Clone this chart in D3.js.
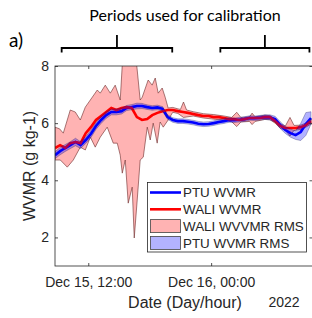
<!DOCTYPE html>
<html>
<head>
<meta charset="utf-8">
<script src="https://cdn.jsdelivr.net/npm/d3@7"></script>
<style>
  body { margin: 0; background: #fff; }
  svg { display: block; }
</style>
</head>
<body>
<div id="chart"></div>
<script>
// Hours since Dec 15 2022, 00:00
const hours = [8.75, 9.25, 9.75, 10.25, 10.75, 11.25, 11.75, 12.25, 12.75, 13.25,
  13.75, 14.25, 14.75, 15.25, 15.75, 16.25, 16.75, 17.25, 17.75, 18.25,
  18.75, 19.25, 19.75, 20.25, 20.75, 21.25, 21.75, 22.25, 22.75, 23.25,
  23.75, 24.25, 24.75, 25.25, 25.75, 26.25, 26.75, 27.25, 27.75, 28.25,
  28.75, 29.25, 29.75, 30.25, 30.75, 31.25, 31.75, 32.25, 32.75, 33.25, 33.75];

const ptuWvmr = [4.88, 5.02, 5.13, 5.23, 5.34, 5.23, 5.41, 5.62, 5.90, 6.11,
  6.28, 6.39, 6.39, 6.42, 6.53, 6.56, 6.60, 6.60, 6.56, 6.53,
  6.55, 6.50, 6.21, 6.11, 6.07, 6.07, 6.05, 6.02, 5.98, 5.96,
  5.97, 6.00, 6.04, 6.07, 6.11, 6.10, 6.12, 6.14, 6.18, 6.17,
  6.19, 6.21, 6.20, 6.14, 5.93, 5.76, 5.65, 5.58, 5.69, 5.97, 6.18];

const walWvmr = [5.13, 5.23, 5.13, 5.30, 5.34, 5.30, 5.65, 5.86, 6.11, 6.25,
  6.39, 6.53, 6.46, 6.53, 6.56, 6.53, 6.21, 6.11, 6.14, 6.28,
  6.36, 6.42, 6.46, 6.46, 6.42, 6.39, 6.36, 6.32, 6.28, 6.25,
  6.25, 6.21, 6.21, 6.18, 6.14, 6.14, 6.11, 6.14, 6.18, 6.18,
  6.18, 6.21, 6.21, 6.07, 5.90, 5.83, 5.83, 5.83, 5.86, 5.93, 6.07];

// PTU RMS (half width of the blue band)
const ptuRms = [0.12, 0.13, 0.12, 0.12, 0.13, 0.12, 0.12, 0.13, 0.12, 0.12,
  0.11, 0.10, 0.10, 0.10, 0.09, 0.09, 0.10, 0.09, 0.08, 0.08,
  0.08, 0.08, 0.08, 0.08, 0.08, 0.08, 0.08, 0.08, 0.08, 0.08,
  0.08, 0.08, 0.08, 0.08, 0.08, 0.08, 0.08, 0.08, 0.08, 0.08,
  0.08, 0.08, 0.09, 0.10, 0.12, 0.12, 0.14, 0.15, 0.30, 0.40, 0.22];

// WALI RMS envelope (upper and lower edges)
const walUpperHours = [8.75, 9.2, 9.56, 10.24, 10.73, 11.22, 11.71, 12.2, 12.88, 13.17,
  13.66, 14.15, 14.63, 15.12, 15.41, 16.1, 16.78, 17.07, 17.27, 17.85,
  18.24, 18.54, 18.83, 19.22, 19.51, 19.8, 20.25, 20.75, 21.0, 21.3,
  21.6, 22.25, 23.25, 24.25, 25.25, 26.0, 26.5, 26.9, 27.75, 28.0,
  28.3, 29.25, 29.75, 30.25, 30.75, 31.25, 31.7, 32.1, 32.75, 33.25, 33.9];
const walUpper = [5.86, 5.80, 5.65, 6.46, 6.39, 6.11, 6.56, 6.81, 7.16, 7.05,
  7.33, 7.05, 7.33, 6.81, 8.6, 10.0, 7.86, 6.81, 6.91, 7.51,
  7.33, 7.58, 7.05, 7.23, 6.91, 6.53, 6.55, 6.50, 6.48, 6.74,
  6.46, 6.40, 6.33, 6.30, 6.25, 6.20, 6.38, 6.20, 6.22, 6.35,
  6.22, 6.28, 6.26, 6.15, 5.98, 5.90, 6.20, 5.92, 5.93, 6.00, 6.14];

const walLowerHours = [8.75, 9.27, 9.95, 10.54, 11.22, 11.71, 12.2, 12.68, 13.17, 13.85,
  14.44, 14.83, 15.12, 15.32, 15.61, 15.9, 16.29, 16.49, 16.78, 17.07,
  17.37, 17.76, 18.05, 18.34, 18.73, 19.02, 19.32, 19.8, 20.25, 20.75,
  21.3, 22.25, 23.25, 24.25, 25.25, 26.0, 26.5, 26.9, 27.75, 28.0,
  28.3, 29.25, 29.75, 30.25, 30.75, 31.25, 31.7, 32.1, 32.75, 33.25, 33.9];
const walLower = [4.71, 4.71, 4.46, 4.71, 5.16, 5.06, 5.51, 5.16, 5.51, 5.86,
  5.30, 5.30, 4.88, 4.25, 4.71, 3.20, 3.76, 1.98, 3.31, 4.71,
  4.81, 5.86, 5.41, 6.00, 5.30, 6.04, 5.86, 6.11, 6.38, 6.34,
  6.20, 6.25, 6.18, 6.14, 6.10, 6.05, 5.88, 6.04, 6.06, 5.95,
  6.06, 6.13, 6.12, 6.00, 5.82, 5.75, 5.55, 5.75, 5.78, 5.86, 6.00];

const calibPeriods = [[9.4, 20.2], [24.9, 33.6]];
const yTicks = [2, 4, 6, 8];
const legendLabels = ["PTU WVMR", "WALI WVMR", "WALI WVVMR RMS", "PTU WVMR RMS"];

const width = 312, height = 318;
const plot = { left: 55, right: 312.5, top: 66, bottom: 266 };
const axisColor = "#262626";
const font = "'Liberation Sans', Arial, Helvetica, sans-serif";

const t0 = Date.UTC(2022, 11, 15);
const toDate = h => new Date(t0 + h * 3600e3);

const x = d3.scaleUtc()
  .domain([toDate(8.75), toDate(33.9)])
  .range([plot.left, plot.right]);
const y = d3.scaleLinear()
  .domain([1, 8])
  .range([plot.bottom, plot.top]);

const svg = d3.select("#chart").append("svg")
  .attr("width", width)
  .attr("height", height);

svg.append("defs").append("clipPath").attr("id", "clip")
  .append("rect")
  .attr("x", plot.left).attr("y", plot.top)
  .attr("width", plot.right - plot.left)
  .attr("height", plot.bottom - plot.top);

const g = svg.append("g").attr("clip-path", "url(#clip)");

// WALI RMS band (upper edge forward, lower edge back)
const walPoly = walUpperHours.map((h, i) => [x(toDate(h)), y(walUpper[i])])
  .concat(walLowerHours.map((h, i) => [x(toDate(h)), y(walLower[i])]).reverse());
g.append("path")
  .attr("d", d3.line()(walPoly) + "Z")
  .attr("fill", "rgb(255,179,179)")
  .attr("stroke", "#6b2a2a")
  .attr("stroke-width", 0.6);

const line = d3.line()
  .x(d => x(toDate(d[0])))
  .y(d => y(d[1]));

g.append("path")
  .attr("d", line(hours.map((h, i) => [h, ptuWvmr[i]])))
  .attr("fill", "none")
  .attr("stroke", "#0000ff")
  .attr("stroke-width", 2.6);

g.append("path")
  .attr("d", line(hours.map((h, i) => [h, walWvmr[i]])))
  .attr("fill", "none")
  .attr("stroke", "#ff0000")
  .attr("stroke-width", 2.6);

// PTU RMS band, semi transparent on top
const ptuArea = d3.area()
  .x((h) => x(toDate(h)))
  .y0((h, i) => y(ptuWvmr[i] - ptuRms[i]))
  .y1((h, i) => y(ptuWvmr[i] + ptuRms[i]));
g.append("path")
  .attr("d", ptuArea(hours))
  .attr("fill", "rgba(0,0,255,0.3)")
  .attr("stroke", "rgba(20,20,90,0.6)")
  .attr("stroke-width", 0.5);

// Axes
const xTickFmt = d3.utcFormat("%b %d, %H:%M");
svg.append("g")
  .attr("transform", `translate(0,${plot.bottom})`)
  .call(d3.axisBottom(x).ticks(d3.utcHour.every(12)).tickFormat(xTickFmt)
    .tickSizeInner(-3).tickSizeOuter(0).tickPadding(11));
svg.append("g")
  .attr("transform", `translate(0,${plot.top})`)
  .call(d3.axisTop(x).ticks(d3.utcHour.every(12)).tickFormat("")
    .tickSizeInner(-3).tickSizeOuter(0));
svg.append("g")
  .attr("transform", `translate(${plot.left},0)`)
  .call(d3.axisLeft(y).tickValues(yTicks).tickFormat(d3.format("d"))
    .tickSizeInner(-3).tickSizeOuter(0).tickPadding(6));
svg.append("g")
  .attr("transform", `translate(${plot.right},0)`)
  .call(d3.axisRight(y).tickValues(yTicks).tickFormat("").tickSizeInner(-3).tickSizeOuter(0));

svg.selectAll(".domain").remove();
svg.selectAll(".tick line").attr("stroke", axisColor).attr("stroke-width", 0.8);
svg.selectAll(".tick text")
  .attr("fill", axisColor)
  .style("font-family", font)
  .style("font-size", "14px");

// Box
svg.append("rect")
  .attr("x", plot.left).attr("y", plot.top)
  .attr("width", plot.right - plot.left)
  .attr("height", plot.bottom - plot.top)
  .attr("fill", "none")
  .attr("stroke", axisColor)
  .attr("stroke-width", 0.8);

// Axis labels
svg.append("text")
  .attr("transform", `translate(35,166) rotate(-90)`)
  .attr("text-anchor", "middle")
  .attr("fill", axisColor)
  .style("font-family", font)
  .style("font-size", "16px")
  .text("WVMR (g kg-1)");

svg.append("text")
  .attr("x", 185).attr("y", 308)
  .attr("text-anchor", "middle")
  .attr("fill", axisColor)
  .style("font-family", font)
  .style("font-size", "16px")
  .text("Date (Day/hour)");

svg.append("text")
  .attr("x", 284).attr("y", 307)
  .attr("text-anchor", "middle")
  .attr("fill", axisColor)
  .style("font-family", font)
  .style("font-size", "14px")
  .text("2022");

// Legend
const legend = svg.append("g");
legend.append("rect")
  .attr("x", 147.5).attr("y", 182.5)
  .attr("width", 159).attr("height", 69.5)
  .attr("fill", "#fff")
  .attr("stroke", axisColor)
  .attr("stroke-width", 0.8);

const legendY = i => 192.5 + i * 16.8;
const legendStyles = [
  { type: "line", color: "#0000ff" },
  { type: "line", color: "#ff0000" },
  { type: "box", color: "rgb(255,179,179)" },
  { type: "box", color: "rgb(179,179,255)" }
];
legendLabels.forEach((label, i) => {
  const s = legendStyles[i];
  const cy = legendY(i);
  if (s.type === "line") {
    legend.append("line")
      .attr("x1", 150).attr("x2", 181)
      .attr("y1", cy).attr("y2", cy)
      .attr("stroke", s.color)
      .attr("stroke-width", 2.6);
  } else {
    legend.append("rect")
      .attr("x", 150.5).attr("y", cy - 6.5)
      .attr("width", 30).attr("height", 13)
      .attr("fill", s.color)
      .attr("stroke", "#444")
      .attr("stroke-width", 0.8);
  }
  legend.append("text")
    .attr("x", 183).attr("y", cy)
    .attr("dy", "0.36em")
    .attr("fill", axisColor)
    .style("font-family", font)
    .style("font-size", "13.4px")
    .text(label);
});

// Calibration brackets
const brackets = svg.append("g")
  .attr("fill", "none")
  .attr("stroke", "#000")
  .attr("stroke-width", 1.8);
calibPeriods.forEach(([a, b]) => {
  const x0 = x(toDate(a)), x1 = x(toDate(b)), xm = (x0 + x1) / 2;
  brackets.append("path")
    .attr("d", `M${x0},52.5 V48 H${x1} V52.5 M${xm},48 V35`);
});

svg.append("text")
  .attr("x", 185).attr("y", 21)
  .attr("text-anchor", "middle")
  .attr("fill", "#000")
  .style("font-family", "Lato, 'Liberation Sans', sans-serif")
  .style("font-size", "16px")
  .text("Periods used for calibration");

svg.append("text")
  .attr("x", 9).attr("y", 47)
  .attr("fill", "#000")
  .style("font-family", "Lato, 'Liberation Sans', sans-serif")
  .style("font-size", "19px")
  .text("a)");
</script>
</body>
</html>
